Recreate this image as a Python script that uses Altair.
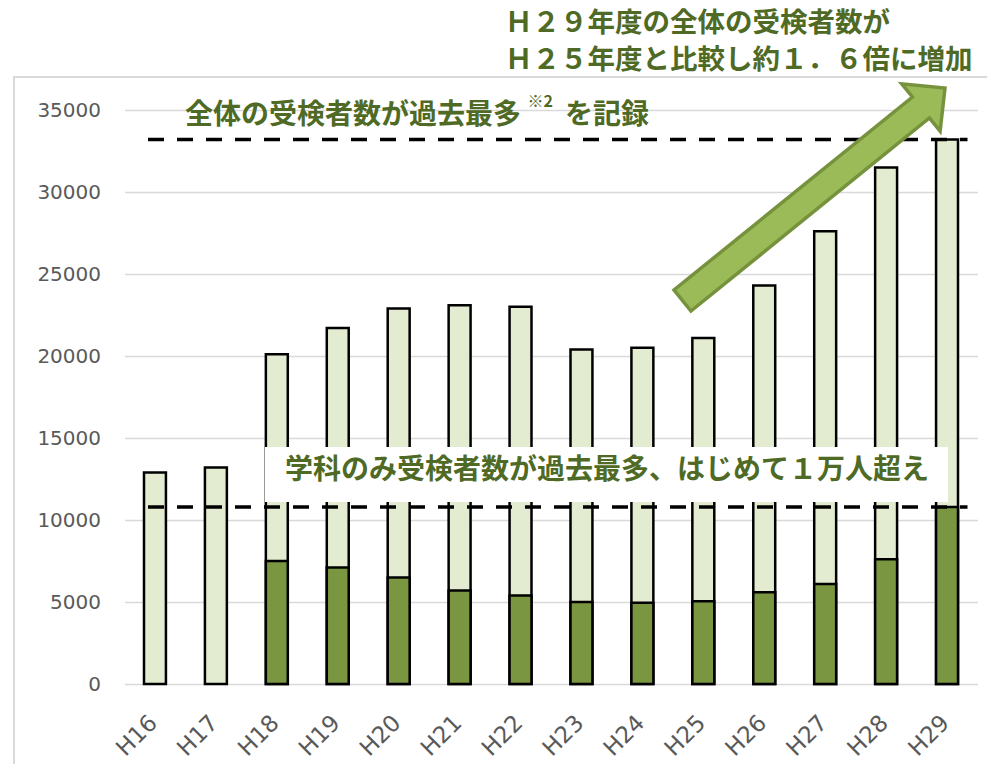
import altair as alt
import numpy as np
import pandas as pd

# ---------------- data ----------------
years = ["H16", "H17", "H18", "H19", "H20", "H21", "H22",
         "H23", "H24", "H25", "H26", "H27", "H28", "H29"]
total = [12900, 13200, 20100, 21700, 22900, 23100, 23000,
         20400, 20500, 21100, 24300, 27600, 31500, 33200]
gakka = [None, None, 7500, 7100, 6500, 5700, 5400,
         5000, 4950, 5050, 5600, 6100, 7600, 10800]
y_ticks = [0, 5000, 10000, 15000, 20000, 25000, 30000, 35000]

title_line1 = "Ｈ２９年度の全体の受検者数が"
title_line2 = "Ｈ２５年度と比較し約１．６倍に増加"
note_total = "全体の受検者数が過去最多"
note_sup = "※2"
note_total_tail = "を記録"
note_gakka = "学科のみ受検者数が過去最多、はじめて１万人超え"

# ---------------- style ----------------
W, H = 853, 574
LIGHT = "#E3EBD0"
DARK = "#7A9640"
OLIVE = "#4F6A25"
GRID = "#D9D9D9"
AXIS_TXT = "#595959"
CJK = "Noto Sans CJK JP"
YMAX = 35000

df = pd.DataFrame({"year": years, "total": total, "gakka": gakka})
one = pd.DataFrame({"a": [0]})

yscale = alt.Scale(domain=[0, YMAX], nice=False)
xscale = alt.Scale(paddingInner=0.64, paddingOuter=0.32)

x_axis = alt.Axis(title=None, labels=False, ticks=False, tickSize=0,
                  domain=False, grid=False)
y_axis = alt.Axis(title=None, values=y_ticks, labelFontSize=20, format="d",
                  labelColor=AXIS_TXT, labelFont="DejaVu Sans",
                  ticks=False, tickSize=0, domain=False,
                  labelPadding=24, gridColor=GRID, gridWidth=1.3)

x_enc = alt.X("year:N", sort=years, scale=xscale, axis=x_axis)

frame = alt.Chart(one).mark_rect(fillOpacity=0, stroke=GRID, strokeWidth=2).encode(
    x=alt.value(-110.5), x2=alt.value(W + 60), y=alt.value(-33), y2=alt.value(H + 120))

bars_total = alt.Chart(df).mark_bar(fill=LIGHT, stroke="black", strokeWidth=2.5).encode(
    x=x_enc, y=alt.Y("total:Q", scale=yscale, axis=y_axis))

bars_gakka = alt.Chart(df).transform_filter("isValid(datum.gakka)").mark_bar(
    fill=DARK, stroke="black", strokeWidth=2.5).encode(
    x=x_enc, y=alt.Y("gakka:Q", scale=yscale, axis=y_axis))

# rotated category labels (drawn as text so the angle is exact)
xlabels = alt.Chart(df).mark_text(
    angle=315, align="right", baseline="middle", font="DejaVu Sans",
    fontSize=23, color=AXIS_TXT, dx=-2).encode(
    x=x_enc, y=alt.value(H + 34), text="year:N")

box = alt.Chart(one).mark_rect(fill="white").encode(
    x=alt.value(140.5), x2=alt.value(823.5), y=alt.value(337), y2=alt.value(392))

lines_df = pd.DataFrame({"v": [total[-1], gakka[-1]]})
rules = alt.Chart(lines_df).mark_rule(stroke="black", strokeWidth=3.5,
                                      strokeDash=[16, 13]).encode(
    y=alt.Y("v:Q", scale=yscale, axis=y_axis),
    x=alt.value(23.5), x2=alt.value(843))


def txt(t, x, y, size=28, align="left"):
    return alt.Chart(pd.DataFrame({"t": [t]})).mark_text(
        align=align, baseline="middle", font=CJK, fontWeight="bold",
        fontSize=size, color=OLIVE).encode(
        text="t:N", x=alt.value(x), y=alt.value(y))


t1 = txt(title_line1, 380.5, -86, 27.5)
t2 = txt(title_line2, 380.5, -49, 27.5)
t3 = txt(note_total, 60.5, 5.5)
t4 = txt(note_sup, 403, -8, 16)
t5 = txt(note_total_tail, 440.5, 5.5)
t6 = txt(note_gakka, 160.5, 361)

# ---------------- arrow (annotation shape) ----------------
tail = np.array([682.5 - 124.5, 300.5 - 110.0])
tip = np.array([945.0 - 124.5, 88.0 - 110.0])
vec = tip - tail
L = float(np.hypot(*vec))
u = vec / L
n = np.array([-u[1], u[0]])
w, hw, hl = 13.5, 30.5, 31.0
center = (tail + tip) / 2
pts = [
    -L / 2 * u + w * n,
    (L / 2 - hl) * u + w * n,
    (L / 2 - hl) * u + hw * n,
    L / 2 * u,
    (L / 2 - hl) * u - hw * n,
    (L / 2 - hl) * u - w * n,
    -L / 2 * u - w * n,
]
R = 170.0
path = "M" + " L".join(f"{p[0] / R:.4f},{p[1] / R:.4f}" for p in pts) + " Z"
arrow = alt.Chart(one).mark_point(
    shape=path, size=(2 * R) ** 2, filled=True, fill="#9BBB59", stroke="#76923C",
    strokeWidth=3.5, opacity=1, fillOpacity=1, strokeJoin="miter").encode(
    x=alt.value(float(center[0])), y=alt.value(float(center[1])))

chart = alt.layer(frame, bars_total, bars_gakka, xlabels, box, rules,
                  t1, t2, t3, t4, t5, t6, arrow).properties(
    width=W, height=H,
    autosize=alt.AutoSizeParams(type="none"),
    padding={"left": 116.5, "top": 102, "right": 9, "bottom": 80},
).configure_view(stroke=None)

chart.save("out.html", embed_options={"renderer": "svg", "actions": False})
